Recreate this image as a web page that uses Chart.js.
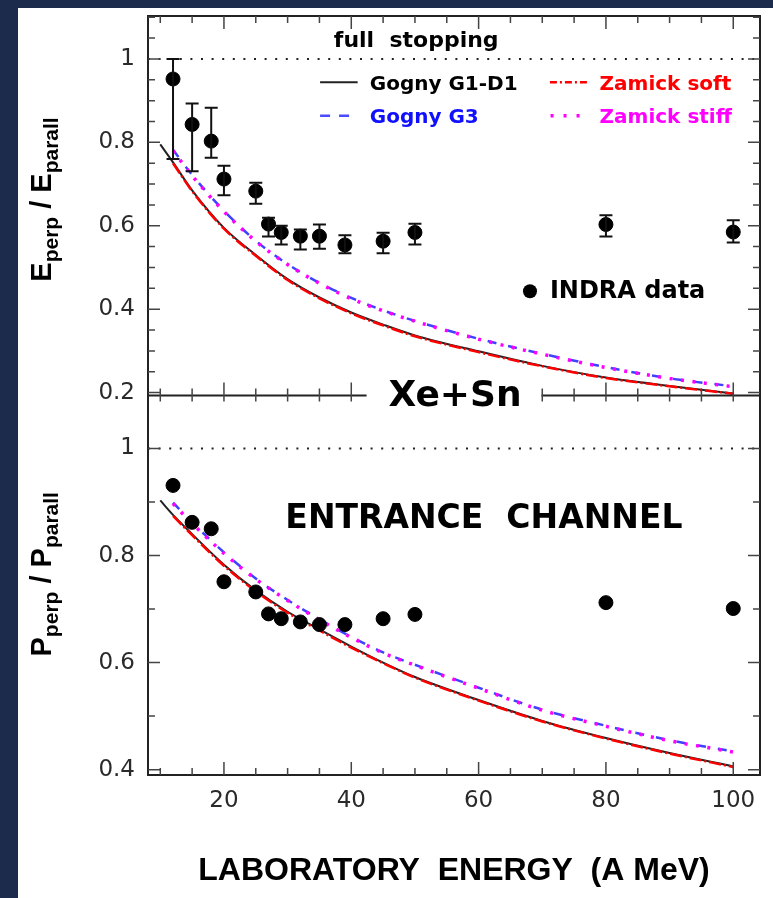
<!DOCTYPE html>
<html>
<head>
<meta charset="utf-8">
<script src="https://cdn.jsdelivr.net/npm/chart.js@4.4.1/dist/chart.umd.min.js"></script>
<style>
  html, body { margin: 0; padding: 0; }
  body { width: 773px; height: 898px; background: #1c2b4b; position: relative; overflow: hidden; }
  #plot { position: absolute; left: 18px; top: 8px; background: #fff; }
</style>
</head>
<body>
<canvas id="plot" width="755" height="890"></canvas>
<script>
// INDRA data, beam energy in A MeV
const energy = [12, 15, 18, 20, 25, 27, 29, 32, 35, 39, 45, 50, 80, 100];
const eRatio = [0.952, 0.843, 0.803, 0.712, 0.683, 0.604, 0.584, 0.575, 0.575, 0.554, 0.563, 0.584, 0.603, 0.585];
const eHigh  = [1.000, 0.893, 0.883, 0.744, 0.703, 0.619, 0.600, 0.591, 0.603, 0.577, 0.583, 0.605, 0.625, 0.613];
const eLow   = [0.760, 0.731, 0.763, 0.673, 0.653, 0.574, 0.555, 0.543, 0.545, 0.534, 0.534, 0.555, 0.574, 0.560];
const pRatio = [0.931, 0.862, 0.850, 0.751, 0.732, 0.691, 0.682, 0.676, 0.671, 0.671, 0.682, 0.690, 0.712, 0.701];

// calculations (entrance channel), null = not computed there
const modelE = [10, 12, 15, 20, 25, 30, 35, 40, 45, 50, 60, 70, 80, 90, 100];
const g1E     = [0.795, 0.752, 0.685, 0.595, 0.530, 0.472, 0.428, 0.392, 0.363, 0.337, 0.299, 0.264, 0.236, 0.216, 0.198];
const softE   = [null, 0.750, 0.683, 0.593, 0.528, 0.470, 0.426, 0.390, 0.361, 0.335, 0.297, 0.263, 0.235, 0.215, 0.197];
const g3E     = [null, 0.782, 0.722, 0.636, 0.564, 0.508, 0.463, 0.427, 0.397, 0.372, 0.329, 0.293, 0.261, 0.234, 0.215];
const stiffE  = [null, 0.780, 0.720, 0.634, 0.563, 0.507, 0.462, 0.425, 0.396, 0.371, 0.328, 0.292, 0.260, 0.234, 0.214];
const g1P     = [0.903, 0.876, 0.840, 0.783, 0.735, 0.695, 0.662, 0.630, 0.600, 0.573, 0.530, 0.491, 0.459, 0.431, 0.406];
const softP   = [null, 0.874, 0.838, 0.781, 0.733, 0.693, 0.660, 0.628, 0.599, 0.572, 0.529, 0.490, 0.458, 0.430, 0.405];
const g3P     = [null, 0.899, 0.862, 0.806, 0.757, 0.717, 0.681, 0.648, 0.619, 0.596, 0.553, 0.512, 0.482, 0.455, 0.434];
const stiffP  = [null, 0.897, 0.860, 0.804, 0.756, 0.716, 0.680, 0.647, 0.618, 0.595, 0.552, 0.511, 0.481, 0.454, 0.433];

const fullStop = 1;
const xTicks = [20, 40, 60, 80, 100];
const topTicks = [0.2, 0.4, 0.6, 0.8, 1];
const botTicks = [0.4, 0.6, 0.8, 1];
const xMin = 8.07, xMax = 104.2;

const SANS = '"Liberation Sans", Arial, sans-serif';
const DJ = '"DejaVu Sans", sans-serif';

const pts = (xs, ys) => xs.map((x, i) => ({x: x, y: ys[i]})).filter(p => p.y != null);

function curve(data, axis, color, width, dash, order) {
  return {
    data: data, yAxisID: axis, borderColor: color, borderWidth: width, borderDash: dash,
    pointRadius: 0, fill: false, cubicInterpolationMode: 'monotone', order: order
  };
}

function stopLine(axis) {
  return {
    data: [{x: xMin, y: fullStop}, {x: xMax, y: fullStop}], yAxisID: axis,
    borderColor: '#222', borderWidth: 2, borderDash: [2, 8.6], pointRadius: 0, order: 9
  };
}

//error bars on the E ratio points
const errorBars = {
  id: 'errorBars',
  afterDatasetsDraw(chart) {
    const ctx = chart.ctx;
    chart.data.datasets.forEach((ds, i) => {
      if (!ds.errHigh) return;
      const ys = chart.scales[ds.yAxisID];
      ctx.save();
      ctx.strokeStyle = '#111';
      ctx.lineWidth = 2;
      chart.getDatasetMeta(i).data.forEach((pt, j) => {
        const hi = ys.getPixelForValue(ds.errHigh[j]);
        const lo = ys.getPixelForValue(ds.errLow[j]);
        ctx.beginPath();
        ctx.moveTo(pt.x, hi); ctx.lineTo(pt.x, lo);
        ctx.moveTo(pt.x - 6.5, hi); ctx.lineTo(pt.x + 6.5, hi);
        ctx.moveTo(pt.x - 6.5, lo); ctx.lineTo(pt.x + 6.5, lo);
        ctx.stroke();
      });
      ctx.restore();
    });
  }
};

function xeSnGap(chart) {
  const ctx = chart.ctx;
  ctx.save();
  ctx.font = 'bold 36px ' + DJ;
  const w = ctx.measureText('Xe+Sn').width;
  ctx.restore();
  const cx = chart.scales.x.getPixelForValue(56.3);
  return [cx - w / 2 - 22, cx + w / 2 + 20, cx];
}

// frame with inward ticks, like the original plot
const plotFrame = {
  id: 'plotFrame',
  afterDraw(chart) {
    const {ctx, chartArea: a} = chart;
    const {x, yTop, yBot} = chart.scales;
    const mid = yTop.bottom;
    const gap = xeSnGap(chart);
    ctx.save();
    ctx.strokeStyle = '#222';
    ctx.lineWidth = 2;
    ctx.beginPath();
    ctx.moveTo(a.left, a.top); ctx.lineTo(a.right, a.top);
    ctx.lineTo(a.right, a.bottom); ctx.lineTo(a.left, a.bottom); ctx.closePath();
    ctx.moveTo(a.left, mid); ctx.lineTo(gap[0], mid);
    ctx.moveTo(gap[1], mid); ctx.lineTo(a.right, mid);
    ctx.stroke();

    ctx.lineWidth = 1.5;
    ctx.strokeStyle = '#444';
    ctx.beginPath();
    for (let v = 10; v <= 100; v += 5) {
      const px = x.getPixelForValue(v);
      const len = v % 20 === 0 ? 13 : 7;
      ctx.moveTo(px, a.bottom); ctx.lineTo(px, a.bottom - len);
      ctx.moveTo(px, a.top); ctx.lineTo(px, a.top + len);
      if (px < gap[0] || px > gap[1]) {
        ctx.moveTo(px, mid - len); ctx.lineTo(px, mid + 6);
      }
    }
    // top panel: minor every 0.05, bottom panel: minor every 0.1
    for (let k = 4; k <= 22; k++) {
      const py = yTop.getPixelForValue(k * 0.05);
      const len = k % 4 === 0 ? 12 : 7;
      ctx.moveTo(a.left, py); ctx.lineTo(a.left + len, py);
      ctx.moveTo(a.right, py); ctx.lineTo(a.right - len, py);
    }
    for (let k = 4; k <= 10; k++) {
      const py = yBot.getPixelForValue(k * 0.1);
      const len = k % 2 === 0 ? 12 : 7;
      ctx.moveTo(a.left, py); ctx.lineTo(a.left + len, py);
      ctx.moveTo(a.right, py); ctx.lineTo(a.right - len, py);
    }
    ctx.stroke();
    ctx.restore();
  }
};

function ratioTitle(ctx, letter, cx, cy) {
  const big = 'bold 29px ' + SANS;
  const small = 'bold 21px ' + SANS;
  const parts = [[letter, big, 0], ['perp', small, 7], [' / ', big, 0], [letter, big, 0], ['parall', small, 7]];
  let total = 0;
  parts.forEach(p => { ctx.font = p[1]; total += ctx.measureText(p[0]).width; });
  ctx.save();
  ctx.translate(cx, cy);
  ctx.rotate(-Math.PI / 2);
  ctx.fillStyle = '#000';
  ctx.textAlign = 'left';
  ctx.textBaseline = 'alphabetic';
  let px = -total / 2;
  parts.forEach(p => {
    ctx.font = p[1];
    ctx.fillText(p[0], px, p[2]);
    px += ctx.measureText(p[0]).width;
  });
  ctx.restore();
}

function sample(ctx, x0, x1, y, color, width, dash) {
  ctx.save();
  ctx.strokeStyle = color;
  ctx.lineWidth = width;
  ctx.setLineDash(dash);
  ctx.beginPath();
  ctx.moveTo(x0, y); ctx.lineTo(x1, y);
  ctx.stroke();
  ctx.restore();
}

// texts, legend and axis titles
const annotations = {
  id: 'annotations',
  afterDraw(chart) {
    const ctx = chart.ctx;
    const {x, yTop, yBot} = chart.scales;
    const X = v => x.getPixelForValue(v);
    const T = v => yTop.getPixelForValue(v);
    const B = v => yBot.getPixelForValue(v);
    ctx.save();
    ctx.fillStyle = '#000';
    ctx.textBaseline = 'alphabetic';

    ctx.textAlign = 'center';
    ctx.font = 'bold 22px ' + DJ;
    ctx.fillText('full  stopping', X(50.2), T(1.0295));

    // legend
    ctx.textAlign = 'left';
    ctx.font = 'bold 20px ' + DJ;
    sample(ctx, X(35.1), X(41.0), T(0.944), '#222', 2, []);
    ctx.fillStyle = '#000';
    ctx.fillText('Gogny G1-D1', X(42.9), T(0.925));
    sample(ctx, X(35.1), X(40.2), T(0.864), '#4a4aff', 2.5, [10, 9]);
    ctx.fillStyle = '#1010ff';
    ctx.fillText('Gogny G3', X(42.9), T(0.847));
    sample(ctx, X(71.2), X(77.5), T(0.944), '#ff0000', 2.5, [7, 3, 2, 3]);
    ctx.fillStyle = '#ff0000';
    ctx.fillText('Zamick soft', X(79.0), T(0.925));
    sample(ctx, X(71.3), X(76.6), T(0.864), '#ff00ff', 3.5, [3, 10]);
    ctx.fillStyle = '#ff00ff';
    ctx.fillText('Zamick stiff', X(79.0), T(0.847));

    // INDRA marker
    ctx.fillStyle = '#000';
    ctx.beginPath();
    ctx.arc(X(68.07), T(0.443), 7, 0, Math.PI * 2);
    ctx.fill();
    ctx.font = 'bold 24px ' + DJ;
    ctx.fillText('INDRA data', X(71.2), T(0.4275));

    // reaction and panel label
    const gap = xeSnGap(chart);
    ctx.textAlign = 'center';
    ctx.font = 'bold 36px ' + DJ;
    ctx.fillText('Xe+Sn', gap[2], yTop.bottom + 10);
    ctx.font = 'bold 33px ' + DJ;
    ctx.fillText('ENTRANCE  CHANNEL', X(60.84), B(0.852));

    ratioTitle(ctx, 'E', 33, T(0.663));
    ratioTitle(ctx, 'P', 33, B(0.765));
    ctx.restore();
  }
};

const yAxis = (min, max, ticks) => ({
  type: 'linear', position: 'left', stack: 'panels', stackWeight: 1,
  min: min, max: max,
  grid: {display: false, drawTicks: false}, border: {display: false},
  afterBuildTicks: s => { s.ticks = ticks.map(v => ({value: v})); },
  afterFit: s => { s.width = 130; s.paddingTop = 0; s.paddingBottom = 0; },
  ticks: {font: {family: DJ, size: 23}, color: '#2a2a2a', padding: 13, callback: v => String(v)}
});

var ctx = document.getElementById('plot');
var chart = new Chart(ctx, {
  type: 'line',
  data: {
    datasets: [
      {data: pts(energy, eRatio), yAxisID: 'yTop', showLine: false, pointRadius: 7,
       pointBackgroundColor: '#000', pointBorderColor: '#000', order: 0, errHigh: eHigh, errLow: eLow},
      {data: pts(energy, pRatio), yAxisID: 'yBot', showLine: false, pointRadius: 7,
       pointBackgroundColor: '#000', pointBorderColor: '#000', order: 0},
      curve(pts(modelE, softE), 'yTop', '#ff0000', 2.5, [12, 3, 2, 3], 1),
      curve(pts(modelE, g1E), 'yTop', '#222', 2, [], 2),
      curve(pts(modelE, stiffE), 'yTop', '#ff00ff', 3.5, [3, 8.5], 3),
      curve(pts(modelE, g3E), 'yTop', '#4040ff', 2.5, [9, 12], 4),
      curve(pts(modelE, softP), 'yBot', '#ff0000', 2.5, [12, 3, 2, 3], 1),
      curve(pts(modelE, g1P), 'yBot', '#222', 2, [], 2),
      curve(pts(modelE, stiffP), 'yBot', '#ff00ff', 3.5, [3, 8.5], 3),
      curve(pts(modelE, g3P), 'yBot', '#4040ff', 2.5, [9, 12], 4),
      stopLine('yTop'),
      stopLine('yBot')
    ]
  },
  options: {
    responsive: false,
    animation: false,
    devicePixelRatio: 1,
    events: [],
    layout: {padding: {top: 8, right: 13, left: 0, bottom: 0}},
    plugins: {legend: {display: false}, tooltip: {enabled: false}},
    scales: {
      x: {
        type: 'linear', min: xMin, max: xMax,
        grid: {display: false, drawTicks: false}, border: {display: false},
        afterBuildTicks: s => { s.ticks = xTicks.map(v => ({value: v})); },
        afterFit: s => { s.height = 123; s.paddingLeft = 0; s.paddingRight = 0; },
        ticks: {font: {family: DJ, size: 23}, color: '#2a2a2a', padding: 12, autoSkip: false, maxRotation: 0},
        title: {display: true, text: 'LABORATORY  ENERGY  (A MeV)', color: '#000',
                font: {family: SANS, size: 32, weight: 'bold'}, padding: {top: 0, bottom: 8}}
      },
      yBot: yAxis(0.39, 1.099, botTicks),
      yTop: yAxis(0.193, 1.103, topTicks)
    }
  },
  plugins: [errorBars, plotFrame, annotations]
});
</script>
</body>
</html>
